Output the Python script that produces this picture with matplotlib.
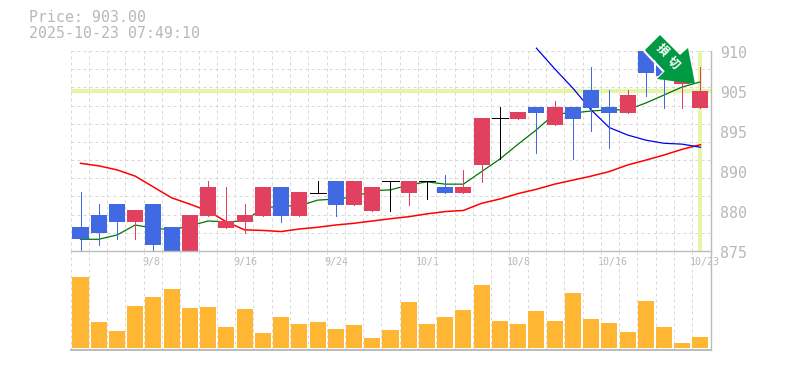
"""Candlestick chart with moving averages, volume bars and a sell arrow."""

import numpy as np
import matplotlib
matplotlib.use("Agg")
import matplotlib.pyplot as plt
from matplotlib.patches import Polygon

# ===========================================================================
#  DATA
# ===========================================================================
opens = [879.2, 881.3, 883.2, 880.1, 883.2, 879.2, 875.0, 881.1, 879.0, 880.1,
         881.1, 886.2, 881.1, 885.2, 887.25, 883.05, 882.0, 887.2, 885.15, 887.2,
         886.2, 885.15, 890.05, 898.2, 898.1, 900.2, 897.05, 900.2, 903.2, 900.2,
         899.15, 910.0, 908.4, 904.2, 900.0]
closes = [877.1, 878.15, 880.1, 882.2, 876.05, 875.0, 881.3, 886.2, 880.25, 881.3,
          886.2, 881.1, 885.3, 885.2, 883.05, 887.25, 886.2, 887.2, 887.25, 887.2,
          885.15, 886.2, 898.3, 898.2, 899.3, 899.15, 900.2, 898.1, 900.0, 899.15,
          902.3, 906.15, 905.6, 908.4, 903.0]
highs = [885.3, 883.2, 883.2, 882.2, 883.2, 879.2, 881.3, 887.25, 886.2, 883.2,
         886.2, 886.2, 885.3, 887.25, 887.25, 887.25, 886.2, 887.2, 887.25, 887.2,
         888.3, 889.2, 898.3, 900.2, 899.3, 900.2, 901.25, 900.2, 907.2, 903.2,
         903.2, 910.0, 908.4, 908.4, 907.2]
lows = [875.0, 876.05, 877.1, 877.1, 875.0, 875.0, 875.0, 881.1, 879.0, 878.15,
        881.1, 880.1, 881.1, 885.2, 881.1, 883.05, 882.0, 882.0, 883.05, 884.1,
        885.15, 885.15, 887.1, 891.1, 898.1, 892.15, 897.05, 891.1, 896.0, 893.0,
        899.15, 902.1, 900.0, 900.0, 900.0]

ma_short = [877.05, 877.05, 877.8, 879.55, 879.0, 878.7, 879.4, 880.25, 880.1, 880.25,
            882.5, 882.9, 882.9, 883.9, 884.1, 884.45, 885.55, 885.7, 886.55, 887.1,
            886.7, 886.7, 888.9, 891.1, 893.7, 896.2, 899.0, 899.15, 899.5, 899.7,
            899.7, 900.9, 902.3, 903.7, 904.6]
ma_long = [890.35, 889.9, 889.2, 888.1, 886.2, 884.3, 883.2, 882.0, 880.1, 878.7,
           878.6, 878.4, 878.85, 879.15, 879.55, 879.85, 880.25, 880.65, 881.0, 881.5,
           881.9, 882.1, 883.35, 884.1, 885.05, 885.8, 886.7, 887.4, 888.1, 888.9,
           890.05, 890.9, 891.8, 892.8, 893.6]
ma_blue_x = [25, 26, 27, 28, 29, 30, 31, 32, 33, 34]
ma_blue = [910.5, 906.9, 903.5, 899.7, 896.6, 895.3, 894.4, 893.85, 893.7, 893.15]

volumes = [71, 26, 17, 42, 51, 59, 40, 41, 21, 39, 15, 31, 24, 26, 19, 23, 10, 18,
           46, 24, 31, 38, 63, 27, 24, 37, 27, 55, 29, 25, 16, 47, 21, 5, 11]

price_ticks = [875, 882, 889, 896, 903, 910]
price_labels = ["875", "880", "890", "895", "905", "910"]
date_pos = [4, 9, 14, 19, 24, 29, 34]
date_labels = ["9/8", "9/16", "9/24", "10/1", "10/8", "10/16", "10/23"]
last_price = 903.0
last_index = 34

# ===========================================================================
#  STYLE
# ===========================================================================
W, H = 785, 370
COL_UP = "#E2405F"
COL_DOWN = "#4169E1"
COL_VOL = "#FFB733"
COL_GRID = "#D8D8D8"
COL_AXIS = "#BBBBBB"
COL_TEXT = "#B8B8B8"
COL_MARK = "#E4F5A8"
COL_ARROW = "#009944"
MONO = "DejaVu Sans Mono"
DASH = (0, (3, 3))
X_MIN, X_MAX = -0.549, 34.55


def px_axes(left, top, right, bottom):
    return fig.add_axes([left / W, 1 - bottom / H, (right - left) / W, (bottom - top) / H])


fig = plt.figure(figsize=(W / 100, H / 100), dpi=100)
ax = px_axes(70.5, 51, 710.5, 251)
ax_vol = px_axes(70.5, 251, 710.5, 350)

grid_x = np.linspace(X_MIN, X_MAX, 36)
grid_y = np.linspace(875, 910, 12)

for a in (ax, ax_vol):
    a.set_xlim(X_MIN, X_MAX)
    a.set_xticks([])
    a.set_yticks([])
    a.patch.set_alpha(0)
    for s in a.spines.values():
        s.set_visible(False)
    a.vlines(grid_x, 0, 1, transform=a.get_xaxis_transform(), color=COL_GRID,
             lw=0.72, linestyles=[DASH], zorder=1, clip_on=False)

# --- price panel ---
ax.set_ylim(875, 910)
ax.hlines(grid_y, 0, 1, transform=ax.get_yaxis_transform(), color=COL_GRID,
          lw=0.72, linestyles=[DASH], zorder=1, clip_on=False)
ax.axhline(last_price, color=COL_MARK, lw=3, zorder=2)
ax.axvline(last_index, ymax=0.99, color=COL_MARK, lw=3, zorder=2)

idx = np.arange(len(opens))
ax.plot(idx, ma_long, color="#FF0000", lw=1.1, zorder=3)
ax.plot(idx, ma_short, color="#007700", lw=0.9, zorder=3)
ax.plot(ma_blue_x, ma_blue, color="#0000EE", lw=0.9, zorder=3, clip_on=False)

for i in idx:
    o, c = opens[i], closes[i]
    if c == o:
        col = "#000000"
    elif c > o:
        col = COL_UP
    else:
        col = COL_DOWN
    ax.vlines(i, lows[i], highs[i], color=col, lw=0.7, zorder=4, antialiased=False)
    if c == o:
        ax.hlines(c, i - 0.44, i + 0.44, color=col, lw=0.7, zorder=4, antialiased=False)
    else:
        ax.bar(i, abs(c - o), bottom=min(o, c), width=0.88, color=col, lw=0, zorder=5,
               antialiased=False)

ax.plot([0, 1], [0, 0], transform=ax.transAxes, color=COL_AXIS, lw=1.0,
        zorder=6, clip_on=False)

for v, lab in zip(price_ticks, price_labels):
    ax.annotate(lab, xy=(1, v), xycoords=ax.get_yaxis_transform(),
                xytext=(6.6, -1.8), textcoords="offset points", ha="left", va="center",
                family=MONO, fontsize=10.7, color=COL_TEXT, annotation_clip=False)

for p, lab in zip(date_pos, date_labels):
    ax.annotate(lab, xy=(p, 0), xycoords=ax.get_xaxis_transform(),
                xytext=(-8, -7.8), textcoords="offset points", ha="left", va="center",
                family=MONO, fontsize=7.2, color=COL_TEXT, annotation_clip=False,
                zorder=7)

# --- volume panel ---
ax_vol.set_ylim(-2, 97)
ax_vol.bar(idx, volumes, width=0.88, color=COL_VOL, lw=0, zorder=3, antialiased=False)
ax_vol.plot([0, 1], [0, 0], transform=ax_vol.transAxes, color=COL_AXIS, lw=1.4,
            zorder=6, clip_on=False)
ax_vol.plot([1, 1], [0, 1], transform=ax_vol.transAxes, color=COL_AXIS, lw=1.0,
            zorder=6, clip_on=False)
ax.plot([1, 1], [0, 1], transform=ax.transAxes, color=COL_AXIS, lw=1.0,
        zorder=6, clip_on=False)

# --- sell arrow, drawn in figure pixels on top of everything ---
arrow_px = [(695, 84), (688, 48), (680, 55), (660, 35), (645, 50), (665, 71), (657, 79)]
arrow_edge_px = [(644, 51), (664, 72), (656, 80)]
to_fig = lambda pts: [(x / W, 1 - y / H) for x, y in pts]
fig.add_artist(Polygon(to_fig(arrow_edge_px), closed=False, fill=False,
                       edgecolor="white", lw=1.5, zorder=9))
fig.add_artist(Polygon(to_fig(arrow_px), closed=True, facecolor=COL_ARROW,
                       edgecolor="none", zorder=10))
fig.text(662 / W, 1 - 50 / H, "損", family="Noto Sans CJK JP", fontsize=8.5, fontweight="bold",
         color="white", rotation=-45, ha="center", va="center", zorder=11)
fig.text(673 / W, 1 - 63 / H, "切", family="Noto Sans CJK JP", fontsize=8.5, fontweight="bold",
         color="white", rotation=-45, ha="center", va="center", zorder=11)

# --- header ---
fig.text(29 / W, 1 - 18 / H, "Price: 903.00", family=MONO, fontsize=10.7,
         color=COL_TEXT, ha="left", va="center")
fig.text(29 / W, 1 - 33 / H, "2025-10-23 07:49:10", family=MONO, fontsize=10.7,
         color=COL_TEXT, ha="left", va="center")

fig.savefig("out.png", dpi=100)
